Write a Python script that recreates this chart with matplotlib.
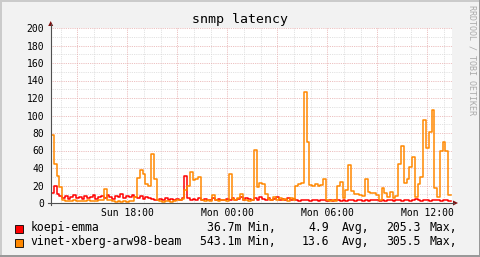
import numpy as np
import matplotlib
matplotlib.use("Agg")
import matplotlib.pyplot as plt
from matplotlib.patches import Rectangle, Polygon

W, H, DPI = 481, 257, 100

title = "snmp latency"
series_names = ["koepi-emma", "vinet-xberg-arw98-beam"]
series_colors = ["#ff0000", "#ff8800"]
min_labels = ["36.7m Min,", "543.1m Min,"]
avg_values = ["4.9", "13.6"]
max_values = ["205.3", "305.5"]
x_tick_hours = [18, 24, 30, 36]
x_tick_labels = ["Sun 18:00", "Mon 00:00", "Mon 06:00", "Mon 12:00"]
y_ticks = list(range(0, 201, 20))
watermark = "RRDTOOL / TOBI OETIKER"

start_hour = 13 + 25 / 60      # Sun 13:25
step_hours = 10 / 60           # 10 minute samples

koepi_emma = [
    12, 19, 10, 8,
    6, 8, 5, 7, 9, 6, 7, 5, 8, 6, 7, 9, 5, 7,
    8, 6, 9, 7, 5, 8, 7, 10, 6, 8, 7, 9,
    7, 6, 8, 5, 7, 6, 5, 4, 3, 5, 4, 6, 4, 5, 3, 5, 4, 6,
    31, 6,
    4, 5, 3, 6, 4, 5, 3, 4, 6, 3, 5, 4, 3, 5,
    4, 6, 3, 5, 7, 4, 6, 5, 3, 6, 4, 7, 5, 4, 6, 3, 5, 7, 4, 5, 3, 6, 4, 5,
    3, 2, 3, 4, 3, 2, 3, 3, 2, 4, 3, 2, 3, 2, 3, 4, 2, 3, 2, 3,
    3, 2, 4, 3, 2, 3, 2, 3, 4, 3, 2, 3, 2, 3, 4, 2, 3, 3, 2, 4,
    3, 2, 3, 5, 3, 2, 4, 3, 2, 3, 4, 3, 2, 3, 3, 2,
]

vinet_xberg = [
    78, 45, 31, 18,
    3, 2, 2, 2, 3, 2, 2, 2, 2, 3, 2, 2, 2, 3,
    3, 16, 4, 4,
    2, 1.5, 2, 1.5, 2, 1.5, 2, 2,
    7, 29, 38, 33, 22, 20, 56, 27, 3,
    2, 1.5, 2, 2, 1.5, 2, 3, 3, 5,
    15, 19, 35, 26, 28, 30,
    3, 2, 3, 2,
    9,
    3, 2, 4, 3, 2,
    33, 5, 4, 6, 10,
    3, 4, 2, 3,
    61, 18, 23, 22, 10,
    5, 3, 7, 4, 6, 3, 5, 2, 6, 4,
    20, 22, 23, 127, 70, 21, 20, 22, 20, 21, 27,
    4, 2, 3, 2,
    20, 24, 6, 15, 43, 14, 10, 10, 9, 8, 28, 13, 11, 11, 9,
    4, 17, 12, 7, 13, 6, 8, 45, 65, 23, 28, 41, 53, 7, 22, 30, 95, 63, 81, 106,
    17, 7, 59, 70, 60, 9,
]

series = [koepi_emma, vinet_xberg]

MONO = "DejaVu Sans Mono"
plt.rcParams["font.family"] = [MONO]

fig = plt.figure(figsize=(W / DPI, H / DPI), dpi=DPI, facecolor="#f2f2f2")

# plot canvas geometry (pixels)
cx0, cx1, cy_top, cy_bot = 51, 452, 28, 203
px_per_hour = 100 / 6

ax = fig.add_axes([cx0 / W, (H - cy_bot) / H, (cx1 - cx0) / W, (cy_bot - cy_top) / H])
ax.set_facecolor("white")
ax.set_xlim(start_hour, start_hour + (cx1 - cx0) / px_per_hour)
ax.set_ylim(0, 200)
for s in ax.spines.values():
    s.set_visible(False)

# grid
grid_minor = "#d8d8d8"
grid_major = "#e6aaaa"
dot = (0, (1, 1.2))
h0 = int(np.ceil(start_hour))
for h in range(h0, int(start_hour + 25)):
    major = (h % 3 == 0)
    ax.axvline(h, color=grid_major if major else grid_minor, lw=0.6, ls=dot,
               zorder=1.5 if major else 1)
for v in range(10, 201, 10):
    major = (v % 20 == 0)
    ax.axhline(v, color=grid_major if major else grid_minor, lw=0.6, ls=dot,
               zorder=1.5 if major else 1)

# data
for vals, col, z in zip(series, series_colors, [3, 4]):
    v = np.array(vals, dtype=float)
    t = start_hour + step_hours * np.arange(len(v) + 1)
    ax.plot(t, np.append(v, v[-1]), drawstyle="steps-post", color=col, lw=1.1, zorder=z)

ax.set_yticks(y_ticks)
ax.set_yticklabels([str(y) for y in y_ticks])
ax.set_xticks(x_tick_hours)
ax.set_xticklabels(x_tick_labels)
ax.tick_params(axis="both", length=0, labelsize=7, colors="#000000")
ax.tick_params(axis="y", pad=4.8)
ax.tick_params(axis="x", pad=3.5)
for lab in ax.get_xticklabels() + ax.get_yticklabels():
    lab.set_family(MONO)

# overlay in pixel coordinates
ov = fig.add_axes([0, 0, 1, 1], zorder=10)
ov.set_xlim(0, W)
ov.set_ylim(H, 0)
ov.axis("off")
ov.patch.set_alpha(0)

# 3D frame
ov.add_patch(Rectangle((0, 0), W, 2, color="#cbcbcb", lw=0))
ov.add_patch(Rectangle((0, 0), 2, H, color="#cbcbcb", lw=0))
ov.add_patch(Rectangle((0, H - 2), W, 2, color="#999999", lw=0))
ov.add_patch(Rectangle((W - 2, 0), 2, H, color="#999999", lw=0))

axis_col = "#505050"
arrow_col = "#7f1010"
ov.plot([50.7, 50.7], [cy_bot + 2, 24], color=axis_col, lw=0.8)
ov.plot([48, 454], [cy_bot, cy_bot], color=axis_col, lw=0.8)
ov.add_patch(Polygon([[48.2, 26], [53.2, 26], [50.7, 21]], closed=True, color=arrow_col, lw=0))
ov.add_patch(Polygon([[453, 200.5], [453, 205.5], [458, 203]], closed=True, color=arrow_col, lw=0))

ov.text(240, 23, title, ha="center", va="baseline", fontsize=9.5, family=MONO, color="#000000")
ov.text(472, 5, watermark, ha="center", va="top", rotation=270, fontsize=6, family=MONO, color="#aaaaaa")

# legend
rows_y = [231, 245]
box_y = [224.8, 238.8]
for i in range(2):
    ov.add_patch(Rectangle((15.3, box_y[i]), 8, 8.5, facecolor=series_colors[i], edgecolor="#000000", lw=0.6))
    y = rows_y[i]
    kw = dict(va="baseline", fontsize=8.3, family=MONO, color="#000000")
    ov.text(30.3, y, series_names[i], ha="left", **kw)
    ov.text(276, y, min_labels[i], ha="right", **kw)
    ov.text(329, y, avg_values[i], ha="right", **kw)
    ov.text(341.7, y, "Avg,", ha="left", **kw)
    ov.text(386, y, max_values[i], ha="left", **kw)
    ov.text(429.3, y, "Max,", ha="left", **kw)

fig.savefig("out.png", dpi=DPI, facecolor=fig.get_facecolor())
